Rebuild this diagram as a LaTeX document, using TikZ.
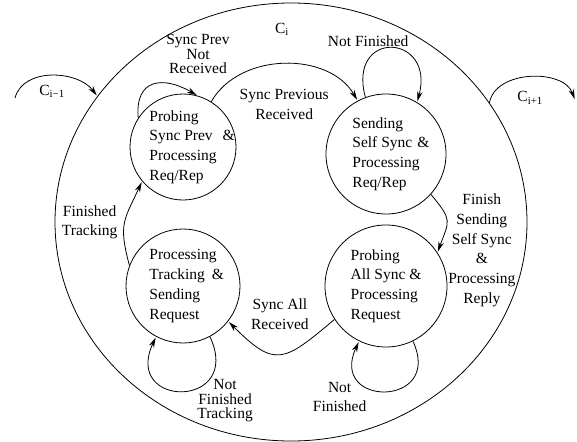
\documentclass[tikz,border=0pt]{standalone}
\usepackage{fontspec}
\setmainfont{Liberation Serif}
\usetikzlibrary{automata, positioning, shapes.geometric, arrows.meta}

\begin{document}
\begin{tikzpicture}[x=1pt, y=-1pt, shorten >= 1pt, line width=0.8pt,
    >={Stealth[length=10pt, width=5.5pt]},
    node distance = 139pt and 203pt, on grid,
    every state/.style={draw, circle, inner sep=0pt, align=left,
      font=\fontsize{15.5}{19.7}\selectfont},
    lbl/.style={align=center, inner sep=1pt, font=\fontsize{15.5}{19.7}\selectfont},
    tight/.style={lbl, font=\fontsize{15.5}{14.5}\selectfont}]
  \useasboundingbox (0,0) rectangle (577,441);
  % cycle i
  \node[draw, ellipse, minimum width=472pt, minimum height=438pt] (ci) at (291,222) {};
  \node[lbl] (cil) [below=19pt of ci.north, xshift=-9pt] {C\textsubscript{i}};
  \coordinate (cprev) at (15,98);
  \coordinate (cnext) at (575,100);
  % states
  \node[state, minimum size=106pt] (psp) at (183,147) {Probing\\Sync Prev\rlap{\hspace{10pt}\&}\\Processing\\Req/Rep};
  \node[state, minimum size=120pt] (sss) [right=of psp, yshift=-7pt] {Sending\\Self Sync\rlap{\hspace{5pt}\&}\\Processing\\Req/Rep};
  \node[state, minimum size=114pt] (ptr) [below=of psp] {Processing\\Tracking\rlap{\hspace{7pt}\&}\\Sending\\Request};
  \node[state, minimum size=122pt] (pas) [right=of ptr] {Probing\\All Sync \&\\Processing\\Request};
  \path[->]
    (cprev) edge [out=75, in=127] node[lbl, below=8pt] {C\textsubscript{i−1}} (ci.147)
    (ci.31) edge [out=80, in=110] node[lbl, below=13pt] {C\textsubscript{i+1}} (cnext)
    (psp.147) edge [out=95, in=150, looseness=1.6]
        node[tight, pos=0.8, above=11pt, xshift=20pt] {Sync Prev\\Not\\Received} (psp.74)
    (psp) edge [bend left=60] node[lbl, below=24pt] {Sync Previous\\Received} (sss)
    (sss.110) edge [out=105, in=75, looseness=3.5]
        node[lbl, above, xshift=-23pt] {Not Finished} (sss.59)
    (sss.-42) edge [out=-50, in=70, looseness=1.5]
        node[lbl, right=0pt, yshift=-29pt] {Finish\\Sending\\Self Sync\\\&\\Processing\\Reply} (pas.33)
    (pas.-64) edge [out=-65, in=-115, looseness=3.5]
        node[lbl, pos=0.75, anchor=north east, xshift=9pt, yshift=-2pt] {Not\\Finished} (pas.-116)
    (pas.213) edge [out=220, in=-45, looseness=1.6] node[lbl, above=23pt] {Sync All\\Received} (ptr.-38)
    (ptr.-62) edge [out=-65, in=-115, looseness=3.8]
        node[tight, pos=0.2, anchor=north, xshift=11pt, yshift=-7pt] {Not\\Finished\\Tracking} (ptr.-118)
    (ptr.159) edge [out=105, in=-115, looseness=1.3] node[lbl, left=6pt] {Finished\\Tracking} (psp.220);
\end{tikzpicture}
\end{document}
